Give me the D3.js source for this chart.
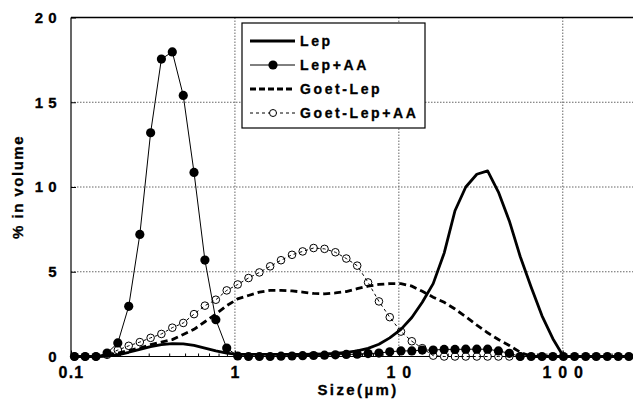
<!DOCTYPE html>
<html>
<head>
<meta charset="utf-8">
<script src="https://cdn.jsdelivr.net/npm/d3@7"></script>
<style>
  body { margin: 0; background: #fff; }
  text { font-family: "Liberation Sans", Arial, sans-serif; font-weight: bold; fill: #000; stroke: #000; stroke-width: 0.3px; }
</style>
</head>
<body>
<svg id="chart" width="633" height="400"></svg>
<script>
// particle size bins (µm)
const sizes = [0.105, 0.122, 0.142, 0.166, 0.193, 0.225, 0.263, 0.306, 0.356, 0.415,
  0.484, 0.563, 0.656, 0.765, 0.891, 1.04, 1.21, 1.41, 1.64, 1.91,
  2.23, 2.59, 3.02, 3.52, 4.10, 4.78, 5.57, 6.49, 7.56, 8.80,
  10.3, 12.0, 13.9, 16.2, 18.9, 22.0, 25.6, 29.9, 34.8, 40.5,
  47.2, 55.0, 64.1, 74.7, 87.0, 101, 118, 138, 160, 187, 218, 253];

const lep = [0, 0, 0, 0.02, 0.1, 0.25, 0.42, 0.58, 0.7, 0.76,
  0.75, 0.65, 0.5, 0.33, 0.2, 0.13, 0.12, 0.12, 0.12, 0.12,
  0.12, 0.13, 0.14, 0.16, 0.18, 0.24, 0.33, 0.48, 0.72, 1.1,
  1.6, 2.3, 3.2, 4.3, 6.1, 8.6, 10.0, 10.75, 10.95, 9.7,
  8.0, 5.9, 4.1, 2.4, 1.05, 0, 0, 0, 0, 0, 0, 0];

const lepAA = [0, 0, 0, 0.2, 0.8, 2.96, 7.2, 13.2, 17.55, 17.97,
  15.4, 10.86, 5.69, 2.17, 0.5, 0.03, 0, 0, 0, 0.02,
  0.03, 0.05, 0.06, 0.08, 0.1, 0.12, 0.14, 0.17, 0.2, 0.28,
  0.33, 0.33, 0.38, 0.38, 0.42, 0.42, 0.43, 0.43, 0.43, 0.33,
  0.19, 0, 0, 0, 0, 0, 0, 0, 0, 0, 0, 0];

const goetLep = [0, 0, 0, 0.05, 0.2, 0.35, 0.5, 0.7, 0.85, 1.0,
  1.3, 1.6, 2.05, 2.5, 3.0, 3.4, 3.6, 3.8, 3.9, 3.9,
  3.87, 3.8, 3.72, 3.7, 3.75, 3.83, 4.0, 4.15, 4.25, 4.3,
  4.3, 4.15, 3.85, 3.5, 3.2, 2.8, 2.35, 1.85, 1.4, 1.0,
  0.65, 0.25, 0, 0, 0, 0, 0, 0, 0, 0, 0, 0];

const goetLepAA = [0, 0, 0, 0.1, 0.38, 0.63, 0.85, 1.1, 1.33, 1.7,
  1.98, 2.5, 3.0, 3.35, 3.9, 4.25, 4.63, 4.96, 5.32, 5.68,
  6.0, 6.2, 6.4, 6.35, 6.15, 5.78, 5.36, 4.37, 3.25, 2.32,
  1.47, 0.9, 0.49, 0.05, 0, 0, 0, 0, 0, 0, 0, 0];

const xTicks = [0.1, 1, 10, 100];
const xTickLabels = ["0.1", "1", "1 0", "1 0 0"];
const yTicks = [0, 5, 10, 15, 20];
const yTickLabels = ["0", "5", "1 0", "1 5", "2 0"];
const seriesNames = ["Lep", "Lep+AA", "Goet-Lep", "Goet-Lep+AA"];

const W = 633;
const x = d3.scaleLog().domain([0.1, 250]).range([71, 628]);
const y = d3.scaleLinear().domain([0, 20]).range([356.5, 17.5]);

const svg = d3.select("#chart");

// grid
svg.append("g")
  .selectAll("line")
  .data(xTicks.slice(1))
  .join("line")
    .attr("x1", d => x(d)).attr("x2", d => x(d))
    .attr("y1", y(20)).attr("y2", y(0))
    .attr("stroke", "#666").attr("stroke-dasharray", "1.5,1.5");

svg.append("g")
  .selectAll("line")
  .data(yTicks.slice(1, -1))
  .join("line")
    .attr("x1", x(0.1)).attr("x2", W)
    .attr("y1", d => y(d)).attr("y2", d => y(d))
    .attr("stroke", "#666").attr("stroke-dasharray", "1.5,1.5");

// axes
svg.append("g")
    .attr("transform", `translate(${x(0.1)},0)`)
    .call(d3.axisLeft(y).tickValues(yTicks).tickSize(-5).tickPadding(14)
      .tickFormat((d, i) => yTickLabels[i]))
    .call(g => g.select(".domain").remove())
    .call(g => g.selectAll("text").attr("font-size", 15).attr("font-family", null)
      .attr("fill", null).style("letter-spacing", "0.5px"));

const minor = [];
for (let p = -1; p <= 2; p++) {
  for (let m = 2; m <= 9; m++) {
    const v = m * Math.pow(10, p);
    if (v < 250) minor.push(v);
  }
}
svg.append("g")
  .selectAll("line")
  .data(minor)
  .join("line")
    .attr("x1", d => x(d)).attr("x2", d => x(d))
    .attr("y1", y(0)).attr("y2", y(0) - 3)
    .attr("stroke", "#000");

svg.append("g")
    .attr("transform", `translate(0,${y(0)})`)
    .call(d3.axisBottom(x).tickValues(xTicks).tickSize(-6).tickPadding(10)
      .tickFormat((d, i) => xTickLabels[i]))
    .call(g => g.select(".domain").remove())
    .call(g => g.selectAll("text").attr("font-size", 16).attr("font-family", null)
      .attr("fill", null).style("letter-spacing", "1.2px"));

// frame
svg.append("line")
  .attr("x1", x(0.1)).attr("x2", x(0.1)).attr("y1", y(20)).attr("y2", y(0))
  .attr("stroke", "#000").attr("stroke-width", 1.2);
svg.append("line")
  .attr("x1", x(0.1)).attr("x2", W).attr("y1", y(20)).attr("y2", y(20))
  .attr("stroke", "#000").attr("stroke-width", 1.5);
svg.append("line")
  .attr("x1", x(0.1)).attr("x2", W).attr("y1", y(0)).attr("y2", y(0))
  .attr("stroke", "#000").attr("stroke-width", 1.2);

// axis titles
svg.append("text")
    .attr("x", 358).attr("y", 395)
    .attr("text-anchor", "middle")
    .attr("font-size", 15)
    .style("letter-spacing", "2.4px")
    .text("Size(µm)");

svg.append("text")
    .attr("transform", `translate(23,${(y(0) + y(20)) / 2}) rotate(-90)`)
    .attr("text-anchor", "middle")
    .attr("font-size", 15)
    .style("letter-spacing", "1.5px")
    .text("% in volume");

// series
const line = d3.line().x(d => x(d[0])).y(d => y(d[1]));
const pts = vals => vals.map((v, i) => [sizes[i], v]);

const plot = svg.append("g");

// Goet-Lep+AA : open circles, thin dashed line
plot.append("g")
  .selectAll("circle")
  .data(pts(goetLepAA))
  .join("circle")
    .attr("cx", d => x(d[0])).attr("cy", d => y(d[1]))
    .attr("r", 3.8)
    .attr("fill", "#fff").attr("stroke", "#000").attr("stroke-width", 1);
plot.append("path")
    .datum(pts(goetLepAA))
    .attr("d", line)
    .attr("fill", "none").attr("stroke", "#000").attr("stroke-width", 1)
    .attr("stroke-dasharray", "3,3");

// Goet-Lep : thick dashed
plot.append("path")
    .datum(pts(goetLep))
    .attr("d", line)
    .attr("fill", "none").attr("stroke", "#000").attr("stroke-width", 2.8)
    .attr("stroke-dasharray", "7,4");

// Lep : thick solid
plot.append("path")
    .datum(pts(lep))
    .attr("d", line)
    .attr("fill", "none").attr("stroke", "#000").attr("stroke-width", 2.8)
    .attr("stroke-linejoin", "round");

// Lep+AA : filled circles, thin line
plot.append("path")
    .datum(pts(lepAA))
    .attr("d", line)
    .attr("fill", "none").attr("stroke", "#000").attr("stroke-width", 1);
plot.append("g")
  .selectAll("circle")
  .data(pts(lepAA))
  .join("circle")
    .attr("cx", d => x(d[0])).attr("cy", d => y(d[1]))
    .attr("r", 4.6)
    .attr("fill", "#000");

// legend
const legend = svg.append("g").attr("transform", "translate(242,23)");
legend.append("rect")
    .attr("width", 183).attr("height", 105)
    .attr("fill", "#fff").attr("stroke", "#000").attr("stroke-width", 1.2);

const rows = legend.selectAll(".row")
  .data(seriesNames)
  .join("g")
    .attr("class", "row")
    .attr("transform", (d, i) => `translate(0,${18 + i * 24})`);

rows.append("line")
    .attr("x1", 8).attr("x2", 53)
    .attr("stroke", "#000")
    .attr("stroke-width", (d, i) => i % 2 === 0 ? 2.8 : 1)
    .attr("stroke-dasharray", (d, i) => i === 2 ? "6,3" : i === 3 ? "3,3" : null);

rows.filter((d, i) => i === 1).append("circle")
    .attr("cx", 31).attr("r", 4.6).attr("fill", "#000");
rows.filter((d, i) => i === 3).append("circle")
    .attr("cx", 31).attr("r", 3.5).attr("fill", "#fff").attr("stroke", "#000");

rows.append("text")
    .attr("x", 58).attr("dy", "0.36em")
    .attr("font-size", 14)
    .style("letter-spacing", "2.6px")
    .text(d => d);
</script>
</body>
</html>
